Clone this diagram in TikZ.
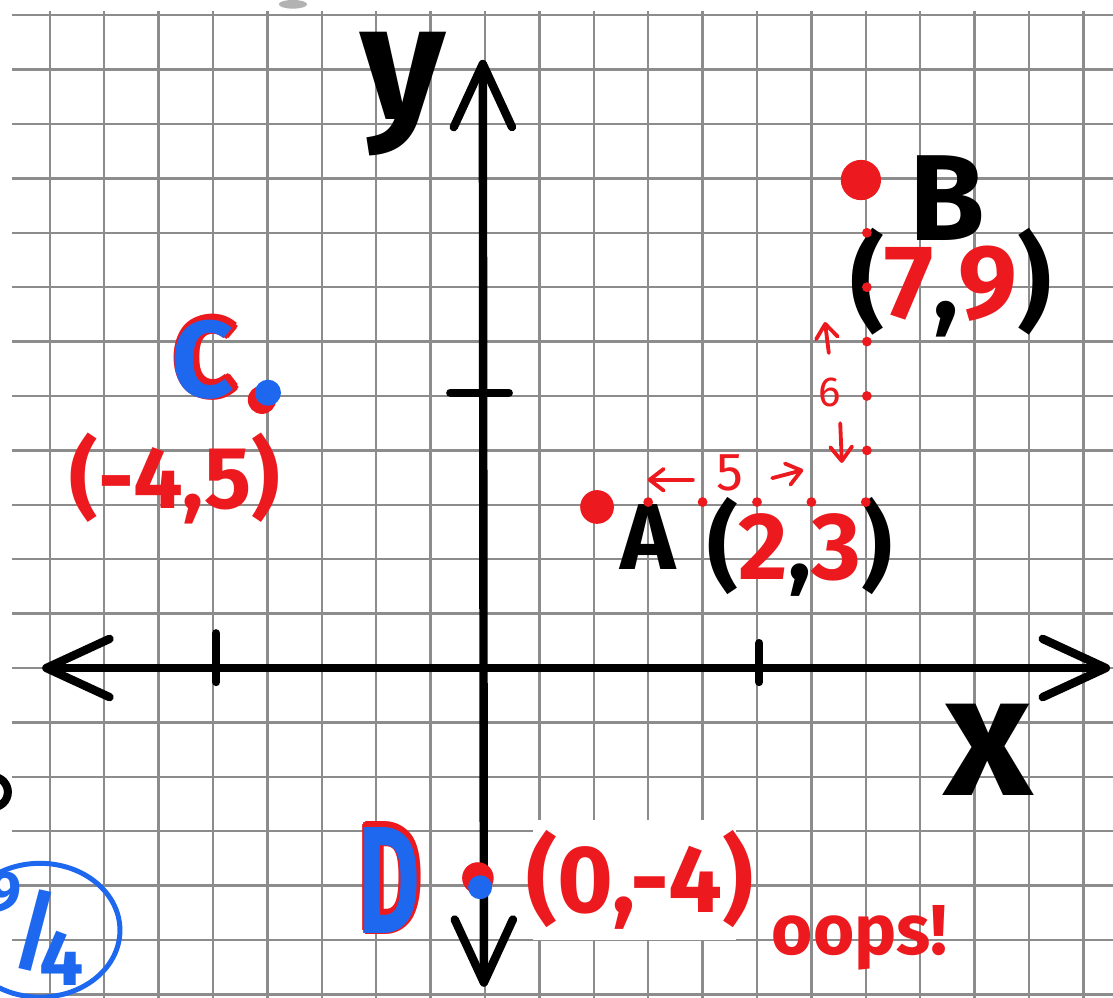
\documentclass[tikz,border=0pt]{standalone}
\usepackage{fontspec}
\setmainfont{Fira Sans}
\usetikzlibrary{arrows.meta}
\definecolor{penred}{RGB}{236,26,30}
\definecolor{penblue}{RGB}{30,104,240}
\definecolor{papergrid}{RGB}{140,140,140}
\begin{document}
\begin{tikzpicture}[
  >={Straight Barb[length=1.16cm,width=1.07cm,round]},
  gridline/.style={draw=papergrid,line width=1.3pt},
  axis/.style={line width=4.4pt,line cap=round,<->},
  tickmark/.style={line width=4.2pt,line cap=round},
  hand/.style={inner sep=0pt,font=\bfseries\fontsize{#1}{#1}\selectfont},
  jot/.style={inner sep=0pt,penred,font=\fontsize{#1}{#1}\selectfont},
  count/.style={penred,line width=2pt,line cap=round,-{Straight Barb[length=.26cm,width=.4cm,round]}}
]
\useasboundingbox (-8.915,-6.048) rectangle (11.544,12.279);
\fill[white] (-8.915,-6.048) rectangle (11.544,12.279);
\draw[gridline] (-8.7,-6.1) grid (11.6,12.07);
\fill[black!30] (-3.53,12.2) ellipse[x radius=.26,y radius=.08];
% patch behind (0,-4)
\fill[white] (0.88,-5.0) rectangle (4.62,-2.8);
% axes
\coordinate (xl) at (-8.14,0);
\coordinate (xr) at (11.49,0);
\coordinate (yb) at (-0.02,-5.86);
\coordinate (yt) at (-0.04,11.18);
\draw[axis] (xl) -- (xr);
\draw[axis] (yb) -- (yt);
\draw[tickmark] (-4.94,-0.26) -- (-4.94,0.64);
\draw[tickmark] (5.04,-0.26) -- (5.04,0.46);
\draw[tickmark] (-0.64,5.06) -- (0.44,5.06);
\node[hand=86pt] (ylab) at (-1.51,10.55) {y};
\node[hand=90pt] (xlab) at (9.25,-1.51) {x};
% A
\fill[penred] (2.06,2.96) circle[radius=.31];
\node[hand=49pt] (labA) at (3.0,2.41) {A};
\node[hand=50pt] (crdA) at (5.79,2.22) {(\textcolor{penred}{2},\textcolor{penred}{3})};
% B
\fill[penred] (6.91,8.97) circle[radius=.37];
\node[hand=64pt] (labB) at (8.49,8.64) {B};
\node[hand=55pt] (crdB) at (8.57,7.08) {(\textcolor{penred}{7},\textcolor{penred}{9})};
% counting from A to B
\foreach \i in {3,...,7} \fill[penred] (\i,3.05) circle[radius=.09];
\foreach \j in {4,...,8} \fill[penred] (7.02,\j) circle[radius=.09];
\node[jot=28pt] (cntFive) at (4.50,3.58) {5};
\node[jot=22pt] (cntSix) at (6.34,5.07) {6};
\coordinate (fiveL) at (2.99,3.46);
\coordinate (fiveR) at (5.85,3.64);
\coordinate (sixU) at (6.25,6.36);
\coordinate (sixD) at (6.56,3.77);
\draw[count] (3.82,3.46) -- (fiveL);
\draw[count] (5.28,3.49) -- (fiveR);
\draw[count] (6.32,5.79) -- (sixU);
\draw[count] (6.53,4.50) -- (sixD);
% C
\fill[penred] (-4.10,4.93) circle[radius=.26];
\fill[penblue] (-3.99,5.06) circle[radius=.24];
\foreach \a in {0,45,...,315}
  \node[hand=57pt,penred,shift={(\a:.06)}] (rimC\a) at (-5.14,5.71) {C};
\node[hand=57pt,penblue] (labC) at (-5.18,5.66) {C};
\node[hand=46pt,penred] (crdC) at (-5.70,3.49) {(-4,5)};
% D
\fill[penred] (-0.13,-3.86) circle[radius=.29];
\fill[penblue] (-0.09,-4.03) circle[radius=.22];
\foreach \a in {0,45,...,315}
  \node[hand=80pt,penred,shift={(\a:.06)}] (rimD\a) at (-1.74,-3.86) {\scalebox{.62}[1]{D}};
\node[hand=80pt,penblue] (labD) at (-1.75,-3.90) {\scalebox{.62}[1]{D}};
\node[hand=50pt,penred] (crdD) at (2.85,-3.90) {(0,-4)};
\node[hand=37pt,penred] (labOops) at (6.89,-4.96) {oops!};
% circled fraction at the edge
\draw[penblue,line width=2.6pt] (-8.18,-4.82) ellipse[x radius=1.47,y radius=1.23];
\node[hand=30pt,penblue] (fracNine) at (-8.82,-4.12) {9};
\node[hand=46pt,penblue] (fracSlash) at (-8.27,-4.82) {/};
\node[hand=41pt,penblue] (fracFour) at (-7.78,-5.33) {4};
\draw[line width=4.2pt] (-9.05,-2.28) circle[radius=.28];
\end{tikzpicture}
\end{document}
